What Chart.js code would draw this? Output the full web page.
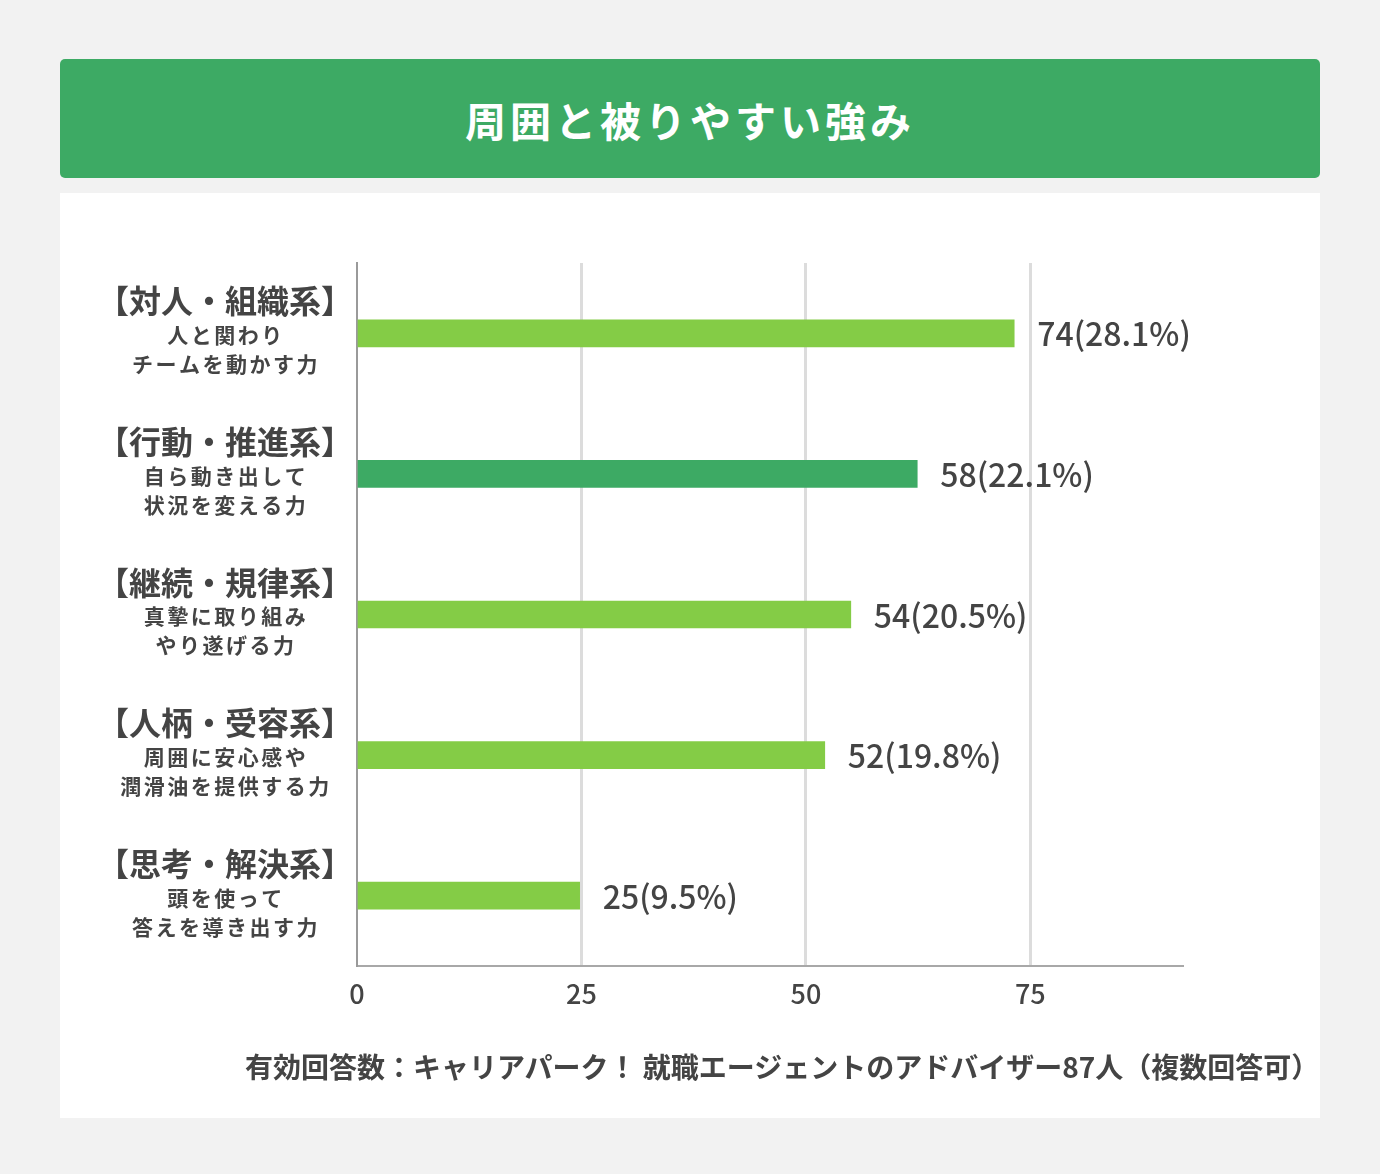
<!DOCTYPE html>
<html lang="ja">
<head>
<meta charset="utf-8">
<title>周囲と被りやすい強み</title>
<script src="https://cdn.jsdelivr.net/npm/chart.js@4.4.1/dist/chart.umd.min.js"></script>
<style>
  html, body { margin: 0; padding: 0; }
  body {
    width: 1380px; height: 1174px; background: #f2f2f2;
    position: relative; overflow: hidden;
    font-family: "Noto Sans CJK JP", "Noto Sans", sans-serif;
  }
  #header {
    position: absolute; left: 60px; top: 59px; width: 1260px; height: 119px;
    background: #3daa64; border-radius: 5px;
    color: #fff; font-size: 41px; font-weight: 700; letter-spacing: 4px;
    display: flex; align-items: center; justify-content: center;
  }
  #panel {
    position: absolute; left: 60px; top: 193px; width: 1260px; height: 925px;
    background: #fff;
  }
  #chart { position: absolute; left: 0; top: 0; }
  #note {
    position: absolute; left: 185px; top: 853px;
    font-size: 28px; line-height: 40px; font-weight: 700; color: #444; white-space: nowrap;
  }
</style>
</head>
<body>
<div id="header">周囲と被りやすい強み</div>
<div id="panel">
  <canvas id="chart" width="1260" height="925"></canvas>
  <div id="note">有効回答数：キャリアパーク！ 就職エージェントのアドバイザー87人（複数回答可）</div>
</div>
<script>
// categories (bold first line) and the two smaller lines under each
const categories = ['【対人・組織系】', '【行動・推進系】', '【継続・規律系】', '【人柄・受容系】', '【思考・解決系】'];
const subLines = [
  ['人と関わり', 'チームを動かす力'],
  ['自ら動き出して', '状況を変える力'],
  ['真摯に取り組み', 'やり遂げる力'],
  ['周囲に安心感や', '潤滑油を提供する力'],
  ['頭を使って', '答えを導き出す力']
];
// answer counts and shares as printed next to the bars
const counts = [74, 58, 54, 52, 25];
const shares = ['28.1', '22.1', '20.5', '19.8', '9.5'];
// bar lengths as drawn in the reference (read against the axis)
const barLengths = [73.2, 62.4, 55, 52.1, 24.8];
const barColors = ['#84cc46', '#3daa64', '#84cc46', '#84cc46', '#84cc46'];
const xTicks = [0, 25, 50, 75];

const FONT = '"Noto Sans CJK JP", "Noto Sans", sans-serif';
const TEXT = '#444';

const labelsPlugin = {
  id: 'labels',
  afterDatasetsDraw(chart) {
    const ctx = chart.ctx;
    const meta = chart.getDatasetMeta(0);
    ctx.save();
    ctx.fillStyle = TEXT;
    ctx.textBaseline = 'middle';
    ctx.textAlign = 'left';
    ctx.font = '500 32px ' + FONT;
    meta.data.forEach((bar, i) => {
      ctx.fillText(counts[i] + '(' + shares[i] + '%)', bar.x + 23, bar.y + 1);
    });

    // category labels on the left
    const y = chart.scales.y;
    const cx = 165;
    ctx.textAlign = 'center';
    categories.forEach((cat, i) => {
      const py = y.getPixelForValue(i);
      ctx.letterSpacing = '0px';
      ctx.font = '700 32px ' + FONT;
      ctx.fillText(cat, cx, py - 32);
      ctx.letterSpacing = '2.5px';
      ctx.font = '700 21px ' + FONT;
      ctx.fillText(subLines[i][0], cx + 1, py + 2);
      ctx.fillText(subLines[i][1], cx + 1, py + 31);
    });
    ctx.restore();
  }
};

const chart = new Chart(document.getElementById('chart'), {
  type: 'bar',
  data: {
    labels: categories,
    datasets: [{
      data: barLengths,
      backgroundColor: barColors,
      barThickness: 27
    }]
  },
  options: {
    indexAxis: 'y',
    responsive: false,
    animation: false,
    layout: { padding: { left: 297, right: 137, top: 70, bottom: 92 } },
    plugins: { legend: { display: false }, tooltip: { enabled: false } },
    scales: {
      x: {
        min: 0,
        max: 92,
        afterBuildTicks: s => { s.ticks = xTicks.map(v => ({ value: v })); },
        afterFit: s => { s.height = 60; },
        grid: {
          color: c => (c.tick && c.tick.value === 0) ? '#9a9a9a' : '#dcdcdc',
          lineWidth: c => (c.tick && c.tick.value === 0) ? 2 : 3,
          drawTicks: false
        },
        border: { color: '#a8a8a8', width: 2 },
        ticks: {
          color: TEXT,
          padding: 12,
          font: { family: FONT, size: 27, weight: '500' }
        }
      },
      y: {
        afterFit: s => { s.width = 0; },
        grid: { display: false, drawTicks: false },
        border: { color: '#9a9a9a', width: 2 },
        ticks: { display: false }
      }
    }
  },
  plugins: [labelsPlugin]
});
</script>
</body>
</html>
